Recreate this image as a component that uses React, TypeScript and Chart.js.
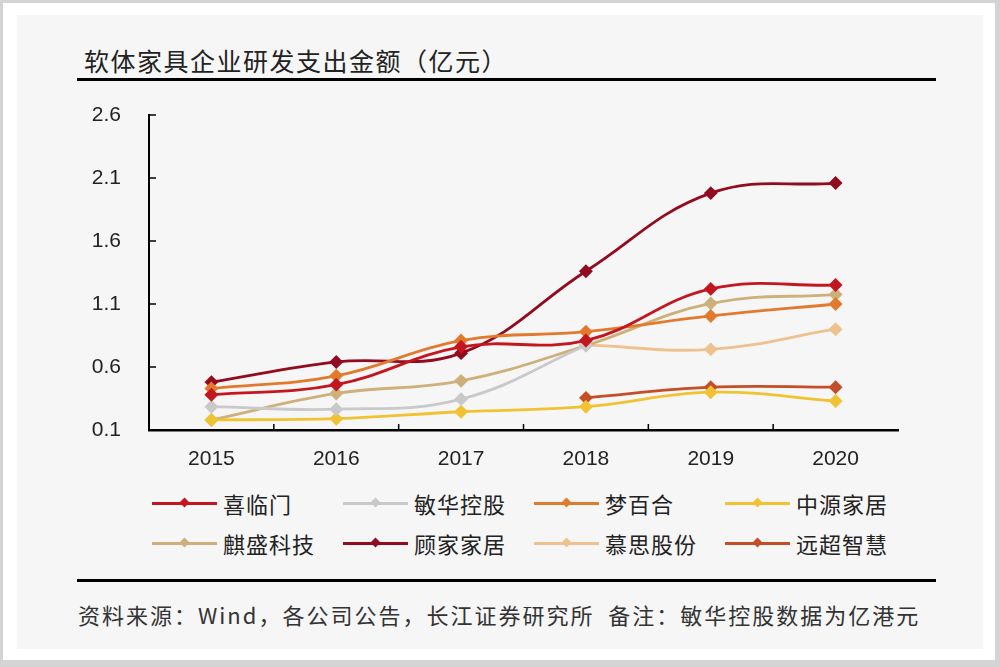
import React, { useEffect, useRef } from 'react';
import { Chart, registerables } from 'chart.js';

Chart.register(...registerables);

// 年份 / 坐标刻度
const years = ['2015', '2016', '2017', '2018', '2019', '2020'];
const yTicks = [0.1, 0.6, 1.1, 1.6, 2.1, 2.6];

// 各公司研发支出（亿元），读自原图
const xilinmen = [0.38, 0.46, 0.76, 0.81, 1.22, 1.25];
const minhua = [0.285, 0.265, 0.345, 0.77, null, null];
const mengbaihe = [0.43, 0.53, 0.81, 0.88, 1.005, 1.1];
const zhongyuan = [0.18, 0.19, 0.245, 0.285, 0.4, 0.33];
const qisheng = [0.18, 0.39, 0.49, 0.77, 1.105, 1.175];
const gujia = [0.48, 0.64, 0.71, 1.36, 1.98, 2.06];
const musi = [null, null, null, 0.775, 0.74, 0.9];
const yuanchao = [null, null, null, 0.355, 0.44, 0.44];

const seriesNames = ['喜临门', '敏华控股', '梦百合', '中源家居', '麒盛科技', '顾家家居', '慕思股份', '远超智慧'];
const seriesData = [xilinmen, minhua, mengbaihe, zhongyuan, qisheng, gujia, musi, yuanchao];
const seriesColors = ['#C4161F', '#C9C9C9', '#E27A2E', '#F1C232', '#CDB07A', '#920B1E', '#EDC28F', '#C54E28'];

const CJK = '"Noto Sans CJK SC", "Noto Sans", sans-serif';
const LATIN = '"Liberation Sans", Arial, sans-serif';

// 轴内侧的小刻度
const innerTicks = {
    id: 'innerTicks',
    afterDraw(chart: any) {
        const { ctx, chartArea, scales } = chart;
        ctx.save();
        ctx.strokeStyle = '#000';
        ctx.lineWidth = 1.5;
        scales.y.ticks.forEach((t: any) => {
            const y = scales.y.getPixelForValue(t.value);
            if (Math.abs(y - chartArea.bottom) < 2) return;
            ctx.beginPath();
            ctx.moveTo(chartArea.left, y);
            ctx.lineTo(chartArea.left + 7, y);
            ctx.stroke();
        });
        for (let i = 1; i < years.length; i++) {
            const x = (scales.x.getPixelForValue(i - 1) + scales.x.getPixelForValue(i)) / 2;
            ctx.beginPath();
            ctx.moveTo(x, chartArea.bottom);
            ctx.lineTo(x, chartArea.bottom - 6);
            ctx.stroke();
        }
        ctx.restore();
    },
};

const RdChart: React.FC = () => {
    const chartRef = useRef<HTMLCanvasElement | null>(null);

    useEffect(() => {
        if (!chartRef.current) return;

        const datasets = seriesNames.map((name, i) => ({
            label: name,
            data: seriesData[i],
            borderColor: seriesColors[i],
            backgroundColor: seriesColors[i],
            pointBackgroundColor: seriesColors[i],
            pointBorderColor: seriesColors[i],
            pointStyle: 'rectRot',
            pointRadius: 5,
            borderWidth: 2.8,
            tension: 0.4,
            spanGaps: false,
        }));

        const myChart = new Chart(chartRef.current, {
            type: 'line',
            data: { labels: years, datasets },
            options: {
                animation: false,
                responsive: false,
                layout: { padding: { top: 15, right: 22, bottom: 0, left: 0 } },
                plugins: {
                    legend: { display: false },
                    tooltip: { enabled: false },
                },
                scales: {
                    x: {
                        offset: true,
                        grid: { drawOnChartArea: false, drawTicks: false },
                        border: { color: '#000', width: 2.5 },
                        ticks: {
                            padding: 17,
                            color: '#222',
                            font: { family: LATIN, size: 21 },
                        },
                        afterFit: (scale: any) => {
                            scale.height = 50;
                        },
                    },
                    y: {
                        min: 0.1,
                        max: 2.6,
                        // 透明的刻度线只用来留出标签与轴之间的空隙
                        grid: { drawOnChartArea: false, drawTicks: true, tickLength: 26, tickColor: 'rgba(0,0,0,0)' },
                        border: { color: '#000', width: 2 },
                        afterBuildTicks: (scale: any) => {
                            scale.ticks = yTicks.map((v) => ({ value: v }));
                        },
                        ticks: {
                            padding: 2,
                            color: '#222',
                            font: { family: LATIN, size: 21 },
                            callback: (v: any) => Number(v).toFixed(1),
                        },
                        afterFit: (scale: any) => {
                            scale.width = 89;
                        },
                    },
                },
            } as any,
            plugins: [innerTicks],
        });

        return () => {
            myChart.destroy();
        };
    }, []);

    return (
        <canvas
            ref={chartRef}
            width={860}
            height={380}
            style={{ position: 'absolute', left: 60, top: 100, width: 860, height: 380 }}
        />
    );
};

const Legend: React.FC = () => (
    <>
        {seriesNames.map((name, i) => {
            const col = i % 4;
            const row = Math.floor(i / 4);
            return (
                <div
                    key={name}
                    style={{
                        position: 'absolute',
                        left: 152 + col * 191,
                        top: 503 + row * 40 - 15,
                        height: 30,
                        display: 'flex',
                        alignItems: 'center',
                    }}
                >
                    <div style={{ position: 'relative', width: 65, height: 3, background: seriesColors[i] }}>
                        <div
                            style={{
                                position: 'absolute',
                                left: 29,
                                top: -2.5,
                                width: 7,
                                height: 7,
                                background: seriesColors[i],
                                transform: 'rotate(45deg)',
                            }}
                        />
                    </div>
                    <span
                        style={{
                            marginLeft: 6,
                            fontFamily: CJK,
                            fontSize: 22,
                            letterSpacing: 1,
                            color: '#222',
                            lineHeight: '30px',
                        }}
                    >
                        {name}
                    </span>
                </div>
            );
        })}
    </>
);

export default function App() {
    return (
        <div style={{ position: 'absolute', left: 0, top: 0, width: 1000, height: 667, background: '#d4d4d4' }}>
            <div style={{ position: 'absolute', left: 3, top: 3, width: 992, height: 657, background: '#fff' }} />
            <div style={{ position: 'absolute', left: 17, top: 15, width: 966, height: 634, background: '#f6f6f6' }} />
            <div
                style={{
                    position: 'absolute',
                    left: 84,
                    top: 44,
                    fontFamily: CJK,
                    fontSize: 25,
                    letterSpacing: 1.5,
                    lineHeight: '32px',
                    color: '#222',
                    whiteSpace: 'nowrap',
                }}
            >
                软体家具企业研发支出金额（亿元）
            </div>
            <div style={{ position: 'absolute', left: 77, top: 78, width: 859, height: 3, background: '#000' }} />
            <RdChart />
            <Legend />
            <div style={{ position: 'absolute', left: 77, top: 579, width: 859, height: 3, background: '#000' }} />
            <div
                style={{
                    position: 'absolute',
                    left: 78,
                    top: 600,
                    fontFamily: CJK,
                    fontSize: 22,
                    letterSpacing: 2,
                    lineHeight: '28px',
                    color: '#333',
                    whiteSpace: 'nowrap',
                }}
            >
                资料来源：Wind，各公司公告，长江证券研究所&nbsp;&nbsp;备注：敏华控股数据为亿港元
            </div>
        </div>
    );
}
